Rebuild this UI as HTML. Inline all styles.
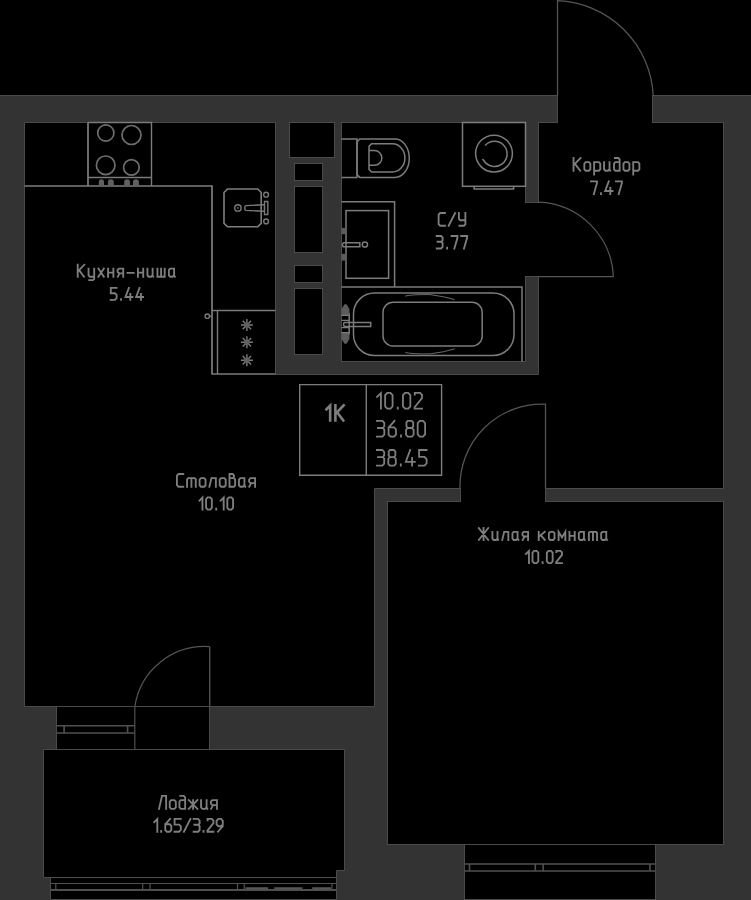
<!DOCTYPE html>
<html><head><meta charset="utf-8">
<style>
html,body{margin:0;padding:0;background:#000;width:751px;height:900px;overflow:hidden}
svg{display:block}
text{font-family:"Liberation Sans",sans-serif;fill:#7c7c7c}
</style></head><body>
<svg width="751" height="900" viewBox="0 0 751 900">
<!-- wall mass -->
<rect x="-2" y="95.5" width="755" height="810" fill="#333" stroke="#4a4a4a" stroke-width="1"/>

<g fill="#000" stroke="#4a4a4a" stroke-width="1">
 <!-- kitchen + dining + corridor -->
 <path d="M24.5 122.5H275.5V374.5H538.5V122.5H723.5V488.5H374.5V706.5H24.5Z"/>
 <!-- bathroom -->
 <rect x="341.5" y="122.5" width="184" height="239"/>
 <!-- shaft -->
 <rect x="289.5" y="122.5" width="45" height="35"/>
 <rect x="294.5" y="163.5" width="28" height="17"/>
 <rect x="294.5" y="186.5" width="28" height="66"/>
 <rect x="294.5" y="265.5" width="28" height="17"/>
 <rect x="294.5" y="288.5" width="28" height="66"/>
 <!-- living room -->
 <rect x="387.5" y="501.5" width="336" height="343"/>
 <!-- balcony opening -->
 <rect x="56.5" y="706.5" width="153" height="43"/>
 <!-- loggia -->
 <path d="M43.5 749.5H344.5V870.5H336.5V899.5H50.5V877.5H43.5Z"/>
 <!-- living window -->
 <rect x="464.5" y="844.5" width="191" height="55"/>
</g>

<!-- openings (erase strokes) -->
<g fill="#000">
 <rect x="558" y="90" width="94" height="33.5"/>
 <rect x="524" y="203" width="16" height="73"/>
 <rect x="461" y="486" width="84" height="16.5"/>
</g>
<g stroke="#4a4a4a" stroke-width="1" fill="none">
 <path d="M557.5 95V123M652.5 95V123"/>
 <path d="M525 202.5H539M525 276.5H539"/>
 <path d="M460.5 488V502M545.5 488V502"/>
</g>

<!-- doors -->
<g stroke="#555" stroke-width="1.25" fill="none">
 <path d="M557.5 95.5V0.66A99.79 99.79 0 0 1 653.2 95.5"/>
 <path d="M538.5 202.06A77.71 77.71 0 0 1 613.3 276.5H538.5"/>
 <path d="M545.5 488.5V404.09A82.19 82.19 0 0 0 460 488.5"/>
 <path d="M209.5 646.66A70.61 70.61 0 0 0 134.87 706.5"/>
</g>
<g stroke="#505050" stroke-width="1.4" fill="none">
 <path d="M209.7 646.5V706.5"/>
</g>

<!-- windows / frames -->
<g stroke="#505050" stroke-width="1.2" fill="none">
 <path d="M134.8 706.5V749.5"/>
 <path d="M50.5 877.5H336.5"/>
 <path d="M50.5 883.5H336.5M55.8 883.5V889.8M142.7 883.5V889.8M150 883.5V889.8M237.5 883.5V889.8M244.3 883.5V889.8M332 883.5V889.8"/>

</g>
<g stroke="#505050" stroke-width="1.6" fill="none">
 <path d="M56.5 725.8H134.8M56.5 733H134.8M64.1 725.8V733M127.6 725.8V733"/>
 <path d="M464.5 864H655.5M464.5 871H655.5M469.5 864V871M535.3 864V871M543.1 864V871M650 864V871"/>
</g>
<g stroke="#4e4e4e" stroke-width="2" fill="none">
 <path d="M50.5 890H336.5"/>
</g>
<g stroke="#555" stroke-width="2.2" fill="none">
 <path d="M245.5 888.4H268M274.2 888.4H302.5M312.2 888.4H331"/>
</g>

<!-- kitchen furniture -->
<g stroke="#7e7e7e" stroke-width="1.7" fill="none">
 <path d="M24.5 186H212V374.5"/>
 <path d="M88 122.5V186"/>
</g>
<g stroke="#7a7a7a" stroke-width="1.4" fill="none">
 <path d="M88 122.5H151.5V186M88 177.5H151.5"/>
 <path d="M212 374H275.5"/>
 <path d="M212 310.5H275.5M217.5 310.5V374"/>
 <path d="M209.7 316.2H212"/>
 <circle cx="207.3" cy="316.2" r="2.2"/>
</g>
<g stroke="#6e6e6e" stroke-width="1.7" fill="none">
 <circle cx="105.8" cy="133" r="8.1"/>
 <circle cx="131.5" cy="135" r="9.5"/>
 <circle cx="105.7" cy="165.3" r="9.3"/>
 <circle cx="131.4" cy="167.4" r="7.8"/>
</g>
<g stroke="#7e7e7e" stroke-width="1.6" fill="none">
 <path d="M224 192.5L227.5 189H257.7L261.2 192.5V223.3L257.7 226.8H227.5L224 223.3Z"/>
</g>
<g stroke="#7a7a7a" stroke-width="1.4" fill="none">
 <circle cx="237.9" cy="207.9" r="3.2"/>
 <path d="M245.5 205.6L264.3 204.7M245.5 210.4L264.3 211.2M245.5 205.6Q244 208 245.5 210.4"/>
 <path d="M264.5 201.5H267.8V214.5H264.5Z"/>
 <circle cx="266.1" cy="194.7" r="2.4"/>
 <circle cx="266.1" cy="221.4" r="2.4"/>
</g>
<g fill="#6a6a6a">
 <circle cx="237.9" cy="207.9" r="0.9"/>
</g>
<g stroke="#7a7a7a" stroke-width="1.4">
 <path d="M246.9 319.0V331.0M240.9 325.0H252.9M242.70000000000002 320.8L251.1 329.2M242.70000000000002 329.2L251.1 320.8"/>
 <path d="M246.9 336.3V348.3M240.9 342.3H252.9M242.70000000000002 338.1L251.1 346.5M242.70000000000002 346.5L251.1 338.1"/>
 <path d="M246.9 354.3V366.3M240.9 360.3H252.9M242.70000000000002 356.1L251.1 364.5M242.70000000000002 364.5L251.1 356.1"/>
</g>
<g fill="#606060">
 <path d="M98.8 185.3V181.7Q98.8 179.2 101.4 179.2Q104 179.2 104 181.7V185.3Z"/>
 <path d="M107.9 185.3V181.7Q107.9 179.2 110.85 179.2Q113.8 179.2 113.8 181.7V185.3Z"/>
 <path d="M124.2 185.3V181.7Q124.2 179.2 127.1 179.2Q130 179.2 130 181.7V185.3Z"/>
 <path d="M133 185.3V181.7Q133 179.2 135.95 179.2Q138.9 179.2 138.9 181.7V185.3Z"/>
 <circle cx="246.9" cy="325" r="2.6"/>
 <circle cx="246.9" cy="342.3" r="2.6"/>
 <circle cx="246.9" cy="360.3" r="2.6"/>
</g>

<!-- bathroom furniture -->
<g stroke="#7c7c7c" stroke-width="1.5" fill="none">
 <!-- toilet -->
 <path d="M341.5 139H357V177.4H341.5"/>
 <path d="M359.8 139H394.9A14.4 19.2 0 0 1 394.9 177.4H359.8L357 174.6V141.8Z"/>
 <path d="M371.6 143.8H392.5A12.4 14.1 0 0 1 392.5 172H371.6L369 169.4V146.4Z"/>
 <path d="M369 150.6H374.5A7.35 7.35 0 0 1 374.5 165.3H369"/>
 <!-- washing machine -->
 <rect x="462.5" y="122.5" width="63" height="63.8"/>
 <path d="M474.2 186.3V189.1H513.6V186.3"/>
 <circle cx="494" cy="153.6" r="18.4"/>
 <path d="M485 145.6A12.6 12.6 0 1 1 483.8 160.5L482.5 159"/>
 <!-- vanity -->
 <path d="M341.5 201.8H394.6V286.7"/>
 <rect x="346" y="210.6" width="42.6" height="67.7"/>
 <path d="M343 242.8H359.8V246.7H343Q342 244.75 343 242.8"/>
 <circle cx="364.9" cy="244.5" r="2.6"/>
 <!-- bathtub -->
 <path d="M341.5 286.9H522V361.5"/>
 <rect x="353.5" y="293" width="160.5" height="62.5" rx="21" ry="21"/>
 <rect x="383" y="302.3" width="99.2" height="43.7" rx="10" ry="10"/>
 <path d="M349.2 313V334.5"/>
 <path d="M344 322.4H370.7V326.4H344Q343 324.4 344 322.4"/>
</g>
<g fill="#5c5c5c">
 <rect x="341.5" y="227.9" width="4.5" height="6.3"/>
 <rect x="341.5" y="253.8" width="4.5" height="6.8"/>
 <path d="M341.5 315V309L344.5 304.3H346.5L349.4 309V315Z"/>
 <path d="M341.5 333V339L344.5 343.7H346.5L349.4 339V333Z"/>
</g>
<g stroke="#7c7c7c" stroke-width="1.3" fill="none">
 <path d="M341.5 315.3H349.2M341.5 320.3H349.2M341.5 327.7H349.2M341.5 332.7H349.2"/>
</g>

<g stroke="#6a6a6a" stroke-width="1" fill="none">
 <path d="M405.3 296Q412 294.4 430 294.6Q445 296.5 454.6 299.6M405.3 352.5Q412 354.1 430 353.9Q445 352 454.6 348.9"/>
</g>

<!-- info box -->
<g stroke="#7c7c7c" stroke-width="1.4" fill="none">
 <path d="M299.7 384.6H441.6V475.2H299.7Z"/>
 <path d="M366.3 384.6V475.2"/>
</g>

<!-- labels -->
<g fill="none" stroke="#7e7e7e" stroke-linecap="square" stroke-linejoin="miter">
 <path stroke-width="1.85" d="M77.72,264.73V276.75M84.34,264.73L78.69,270.56M79.98,271.42L84.02,276.75M88.54,268.59V275.37L89.83,276.75H94.19M94.19,268.59V278.98L93.06,280.18H89.18M98.38,268.59L103.87,276.75M103.87,268.59L98.38,276.75M108.06,268.59V276.75M113.39,268.59V276.75M108.06,272.62H113.39M123.23,276.75V268.59H118.88L117.58,269.96V271.94L118.88,273.31H123.23M119.68,273.31L117.75,276.75M127.43,272.80H133.72M137.92,268.59V276.75M143.24,268.59V276.75M137.92,272.62H143.24M147.44,268.59V275.37L148.73,276.75H151.15L152.60,275.20M152.60,268.59V275.97L153.25,276.75M157.44,268.59V276.75H164.71V268.59M161.08,268.59V276.75M174.07,268.59H170.19L168.90,269.96V275.37L170.19,276.75H172.62L174.07,275.20M174.07,268.59V275.97L174.88,276.75"/>
 <path stroke-width="1.85" d="M116.60,287.93H110.79V293.25H114.98L116.60,294.97V298.23L114.98,299.94H110.62M121.04,299.09V299.94M128.87,287.93L125.48,297.03H132.42M130.32,293.94V299.94M139.52,287.93L136.13,297.03H143.07M140.98,293.94V299.94"/>
 <path stroke-width="1.85" d="M183.25,474.02H178.46L176.93,475.66V485.11L178.46,486.75H183.25M187.06,486.75V479.29L188.17,478.11H194.67L195.78,479.29V486.75M191.42,478.11V486.75M200.96,478.11H204.21L205.57,479.57V485.29L204.21,486.75H200.96L199.60,485.29V479.57ZM209.39,486.75L211.44,478.11H215.88V486.75M221.07,478.11H224.32L225.68,479.57V485.29L224.32,486.75H221.07L219.70,485.29V479.57ZM229.50,486.75V474.02H232.75L233.94,475.30V476.75L232.75,478.11H229.50M229.50,478.11H233.94L235.14,479.39V485.47L233.94,486.75H229.50M244.42,478.11H240.32L238.96,479.57V485.29L240.32,486.75H242.89L244.42,485.11M244.42,478.11V485.93L245.28,486.75M255.08,486.75V478.11H250.46L249.10,479.57V481.66L250.46,483.11H255.08M251.32,483.11L249.27,486.75"/>
 <path stroke-width="1.85" d="M202.44,509.64V497.60L199.49,500.57M207.72,497.42H210.18L211.82,499.17V507.90L210.18,509.64H207.72L206.08,507.90V499.17ZM216.20,508.77V509.64M223.69,509.64V497.60L220.74,500.57M228.97,497.42H231.43L233.08,499.17V507.90L231.43,509.64H228.97L227.33,507.90V499.17Z"/>
 <path stroke-width="1.85" d="M573.52,158.03V170.75M580.53,158.03L574.55,164.20M575.92,165.11L580.19,170.75M585.70,162.11H588.94L590.31,163.57V169.29L588.94,170.75H585.70L584.33,169.29V163.57ZM594.11,174.56V162.11H598.89L600.26,163.57V169.29L598.89,170.75H594.11M604.06,162.11V169.29L605.43,170.75H607.99L609.52,169.11M609.52,162.11V169.93L610.21,170.75M614.86,158.03H618.28L619.65,159.48V170.75M619.65,162.11H615.38L614.01,163.57V169.29L615.38,170.75H619.65M624.81,162.11H628.06L629.42,163.57V169.29L628.06,170.75H624.81L623.45,169.29V163.57ZM633.23,174.56V162.11H638.01L639.38,163.57V169.29L638.01,170.75H633.23"/>
 <path stroke-width="1.85" d="M590.92,181.32H596.95V183.16L593.77,194.14M601.04,193.23V194.14M608.75,181.32L605.13,191.03H612.53M610.30,187.73V194.14M615.85,181.32H621.87V183.16L618.69,194.14"/>
 <path stroke-width="1.85" d="M444.95,213.03H440.16L438.62,214.66V224.11L440.16,225.75H444.95M448.67,225.75L455.16,213.03M458.88,213.03V218.84L460.25,220.29H465.38M465.38,213.03V224.29L464.01,225.75H459.40"/>
 <path stroke-width="1.85" d="M436.73,236.02H441.10L442.61,237.63V240.32L441.43,241.75M437.57,241.75H441.43L442.61,243.00V246.94L441.10,248.54H436.73M447.09,247.65V248.54M451.58,236.02H457.46V237.81L454.35,248.54M461.19,236.02H467.08V237.81L463.96,248.54"/>
 <path stroke-width="1.85" d="M483.55,528.03V539.95M478.82,528.03L488.27,539.95M488.27,528.03L478.82,539.95M492.38,531.86V538.58L493.66,539.95H496.06L497.50,538.41M497.50,531.86V539.18L498.14,539.95M502.25,539.95L504.18,531.86H508.34V539.95M517.57,531.86H513.73L512.45,533.22V538.58L513.73,539.95H516.13L517.57,538.41M517.57,531.86V539.18L518.37,539.95M528.08,539.95V531.86H523.76L522.48,533.22V535.18L523.76,536.54H528.08M524.56,536.54L522.64,539.95M538.71,531.86V539.95M544.79,531.86L539.67,536.03M540.95,535.35L544.79,539.95M550.18,531.86H553.22L554.50,533.22V538.58L553.22,539.95H550.18L548.90,538.58V533.22ZM558.62,539.95V531.86L561.98,537.39L565.34,531.86V539.95M569.45,531.86V539.95M574.73,531.86V539.95M569.45,535.86H574.73M583.97,531.86H580.12L578.84,533.22V538.58L580.12,539.95H582.53L583.97,538.41M583.97,531.86V539.18L584.77,539.95M588.88,539.95V532.96L589.92,531.86H596.00L597.04,532.96V539.95M592.96,531.86V539.95M606.27,531.86H602.43L601.15,533.22V538.58L602.43,539.95H604.83L606.27,538.41M606.27,531.86V539.18L607.08,539.95"/>
 <path stroke-width="1.85" d="M528.97,563.15V551.00L525.99,553.99M534.16,550.83H536.64L538.30,552.59V561.39L536.64,563.15H534.16L532.50,561.39V552.59ZM542.58,562.27V563.15M548.51,550.83H550.99L552.65,552.59V561.39L550.99,563.15H548.51L546.86,561.39V552.59ZM556.35,552.06V550.83H560.49L561.97,552.41V554.87L556.18,562.09V563.15H561.97"/>
 <path stroke-width="1.85" d="M159.03,808.85L161.97,795.93H166.14V808.85M171.14,800.08H174.43L175.82,801.55V807.37L174.43,808.85H171.14L169.75,807.37V801.55ZM180.30,795.93H183.77L185.15,797.40V808.85M185.15,800.08H180.82L179.43,801.55V807.37L180.82,808.85H185.15M188.76,800.08L197.44,808.85M197.44,800.08L188.76,808.85M193.10,800.08V808.85M201.05,800.08V807.37L202.44,808.85H205.04L206.60,807.18M206.60,800.08V808.01L207.29,808.85M216.97,808.85V800.08H212.29L210.90,801.55V803.68L212.29,805.15H216.97M213.16,805.15L211.08,808.85"/>
 <path stroke-width="1.85" d="M157.30,831.75V819.11L154.20,822.22M161.20,830.83V831.75M170.09,818.92L165.27,824.42V830.10L166.82,831.75H169.75L171.30,830.10V825.88L169.75,824.24H165.27M180.80,818.92H174.60V824.60H179.07L180.80,826.43V829.91L179.07,831.75H174.43M183.92,831.75L190.47,818.92M193.59,818.92H198.07L199.62,820.57V823.32L198.41,824.79M194.45,824.79H198.41L199.62,826.07V830.10L198.07,831.75H193.59M203.52,830.83V831.75M207.60,820.21V818.92H211.90L213.45,820.57V823.14L207.42,830.65V831.75H213.45M222.78,826.07L217.95,831.75M218.30,818.92H221.05L222.78,820.76V824.42L221.05,826.25H218.30L216.58,824.42V820.76Z"/>
 <path stroke-width="2.6" d="M330.16,420.52V405.62L326.50,409.29M335.38,405.40V420.52M343.70,405.40L336.59,412.74M338.22,413.82L343.29,420.52"/>
 <path stroke-width="1.8" d="M380.92,408.66V393.13L377.11,396.95M387.28,392.90H390.45L392.57,395.15V406.41L390.45,408.66H387.28L385.16,406.41V395.15ZM397.76,407.53V408.66M405.06,392.90H408.24L410.35,395.15V406.41L408.24,408.66H405.06L402.95,406.41V395.15ZM414.80,394.48V392.90H420.10L422.00,394.93V398.08L414.59,407.31V408.66H422.00"/>
 <path stroke-width="1.8" d="M376.90,420.80H382.40L384.31,422.83V426.20L382.83,428.00M377.96,428.00H382.83L384.31,429.58V434.53L382.40,436.56H376.90M394.51,420.80L388.58,427.55V434.53L390.48,436.56H394.08L395.99,434.53V429.36L394.08,427.33H388.58M401.00,435.43V436.56M407.71,420.80H411.73L413.21,422.38V426.43L411.73,428.00H407.71L406.44,426.43V422.38ZM407.71,428.00H411.94L413.63,429.81V434.76L411.94,436.56H407.71L406.01,434.76V429.81ZM419.81,420.80H422.98L425.10,423.05V434.31L422.98,436.56H419.81L417.69,434.31V423.05Z"/>
 <path stroke-width="1.8" d="M376.90,450.00H382.33L384.21,452.00V455.33L382.75,457.11M377.94,457.11H382.75L384.21,458.67V463.56L382.33,465.56H376.90M389.95,450.00H393.92L395.38,451.56V455.56L393.92,457.11H389.95L388.70,455.56V451.56ZM389.95,457.11H394.13L395.80,458.89V463.78L394.13,465.56H389.95L388.28,463.78V458.89ZM400.81,464.45V465.56M410.20,450.00L405.82,461.78H414.80M412.09,457.78V465.56M426.60,450.00H419.08V456.89H424.51L426.60,459.11V463.34L424.51,465.56H418.87"/>
</g>
</svg>
</body></html>
